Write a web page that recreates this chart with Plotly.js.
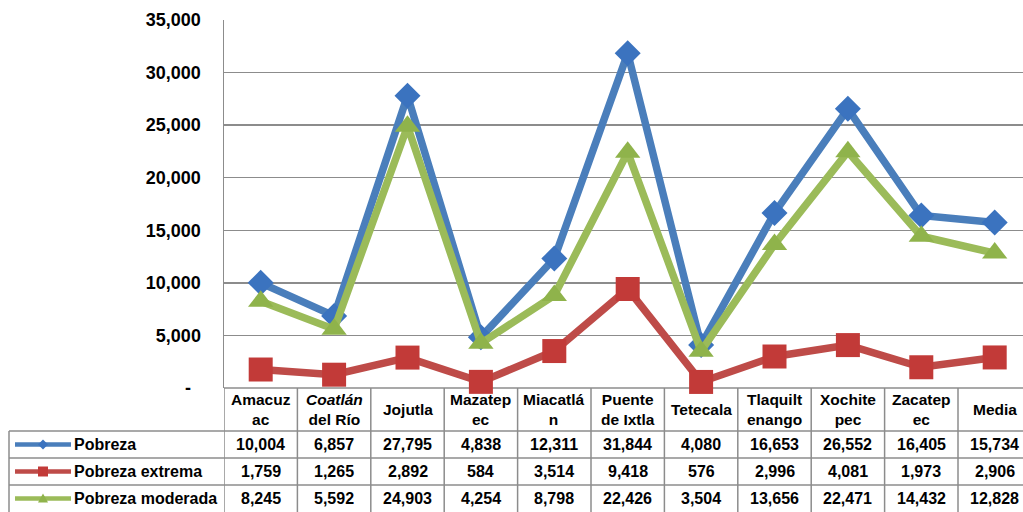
<!DOCTYPE html>
<html>
<head>
<meta charset="utf-8">
<script src="https://cdn.plot.ly/plotly-3.0.1.min.js"></script>
<style>
html,body{margin:0;padding:0;background:#fff;overflow:hidden;}
#chart{width:1023px;height:512px;}
</style>
</head>
<body>
<div id="chart"></div>
<script>
// ---- data ----
const categories = ["Amacuzac","Coatlán del Río","Jojutla","Mazatepec","Miacatlán","Puente de Ixtla","Tetecala","Tlaquiltenango","Xochitepec","Zacatepec","Media"];
const headerLabels = ["Amacuz<br>ac","<i>Coatlán</i><br>del Río","Jojutla","Mazatep<br>ec","Miacatlá<br>n","Puente<br>de Ixtla","Tetecala","Tlaquilt<br>enango","Xochite<br>pec","Zacatep<br>ec","Media"];
const seriesNames = ["Pobreza","Pobreza extrema","Pobreza moderada"];
const pobreza = [10004,6857,27795,4838,12311,31844,4080,16653,26552,16405,15734];
const pobrezaExtrema = [1759,1265,2892,584,3514,9418,576,2996,4081,1973,2906];
const pobrezaModerada = [8245,5592,24903,4254,8798,22426,3504,13656,22471,14432,12828];
const yTickVals = [0,5000,10000,15000,20000,25000,30000,35000];
const yTickText = ["-\u00a0\u00a0","5,000","10,000","15,000","20,000","25,000","30,000","35,000"];

// ---- layout helpers ----
const W = 1023, H = 512;
const px = x => x / W;
const py = y => (H - y) / H;
const FONT = '"Liberation Sans", Arial, sans-serif';
const GRID = '#8c8c8c';
const colW = 73.4;
const plotLeft = 224;

const lineColors = ['#4a7ebb','#be4b48','#9bbb59'];
const markerColors = ['#3b73bf','#c23a38','#8fb34b'];
const symbols = ['diamond','square','triangle-up'];
const sizes = [20,24,22];
const allSeries = [pobreza,pobrezaExtrema,pobrezaModerada];

const traces = allSeries.map((vals,i)=>({
  type:'scatter', mode:'lines+markers', name:seriesNames[i],
  x:categories, y:vals,
  line:{color:lineColors[i], width:7.5},
  marker:{symbol:symbols[i], size:sizes[i], color:markerColors[i], line:{width:0}},
  showlegend:false, hoverinfo:'skip', cliponaxis:false
}));

const fmt = v => v.toLocaleString('en-US');

const rowTops = [388,431,458,485,512];
const shapes = [];
const annotations = [];

// vertical borders of table columns
for (let k=0;k<=categories.length;k++){
  shapes.push({type:'line', xref:'x', yref:'paper', x0:k-0.5, x1:k-0.5,
    y0:py(388), y1:py(512), line:{color:GRID,width:1.5}, layer:'below'});
}
// left border of legend column
shapes.push({type:'line', xref:'paper', yref:'paper', x0:px(9), x1:px(9), y0:py(431), y1:py(512), line:{color:GRID,width:1.5}});
// horizontal borders
shapes.push({type:'line', xref:'paper', yref:'paper', x0:px(plotLeft), x1:1, y0:py(388), y1:py(388), line:{color:GRID,width:1.5}, layer:'below'});
[431,458,485].forEach(y=>{
  shapes.push({type:'line', xref:'paper', yref:'paper', x0:px(9), x1:1, y0:py(y), y1:py(y), line:{color:GRID,width:1.5}});
});

// header labels
categories.forEach((c,i)=>{
  annotations.push({xref:'x', yref:'paper', x:i, y:py(409.5), text:'<b>'+headerLabels[i]+'</b>',
    showarrow:false, xanchor:'center', yanchor:'middle', font:{family:FONT,size:15.5,color:'#000'}});
});
// value rows
allSeries.forEach((vals,r)=>{
  const yc = (rowTops[r+1]+rowTops[r+2])/2;
  vals.forEach((v,i)=>{
    annotations.push({xref:'x', yref:'paper', x:i, y:py(yc), text:'<b>'+fmt(v)+'</b>',
      showarrow:false, xanchor:'center', yanchor:'middle', font:{family:FONT,size:16,color:'#000'}});
  });
  // legend label
  annotations.push({xref:'paper', yref:'paper', x:px(72), y:py(yc), text:'<b>'+seriesNames[r]+'</b>',
    showarrow:false, xanchor:'left', yanchor:'middle', font:{family:FONT,size:16,color:'#000'}});
  // legend key line
  shapes.push({type:'line', xref:'paper', yref:'paper', x0:px(15), x1:px(71), y0:py(yc), y1:py(yc),
    line:{color:lineColors[r], width:4.5}});
  // legend key marker
  const paths = ['M0,5 L5,0 L0,-5 L-5,0 Z','M-5,-5 L5,-5 L5,5 L-5,5 Z','M-5,-4 L5,-4 L0,5 Z'];
  shapes.push({type:'path', xref:'paper', yref:'paper', xsizemode:'pixel', ysizemode:'pixel',
    xanchor:px(43), yanchor:py(yc), path:paths[r], fillcolor:markerColors[r], line:{width:0}});
});

const layout = {
  width:W, height:H,
  margin:{l:0,r:0,t:0,b:0},
  paper_bgcolor:'#fff', plot_bgcolor:'#fff',
  font:{family:FONT,color:'#000'},
  xaxis:{type:'category', domain:[px(plotLeft),1], range:[-0.5, -0.5+(W-plotLeft)/colW],
    showticklabels:false, showgrid:false, zeroline:false, showline:false, ticks:''},
  yaxis:{domain:[py(388),py(20)], range:[0,35000], tickvals:yTickVals, ticktext:yTickText,
    tickfont:{family:FONT,size:18,color:'#000',weight:'bold'},
    showgrid:true, gridcolor:GRID, gridwidth:1.5, zeroline:false,
    showline:true, linecolor:GRID, linewidth:1.5,
    ticks:'outside', ticklen:18, tickcolor:'rgba(0,0,0,0)'},
  shapes:shapes, annotations:annotations, showlegend:false
};

Plotly.newPlot('chart', traces, layout, {staticPlot:true, displayModeBar:false});
</script>
</body>
</html>
